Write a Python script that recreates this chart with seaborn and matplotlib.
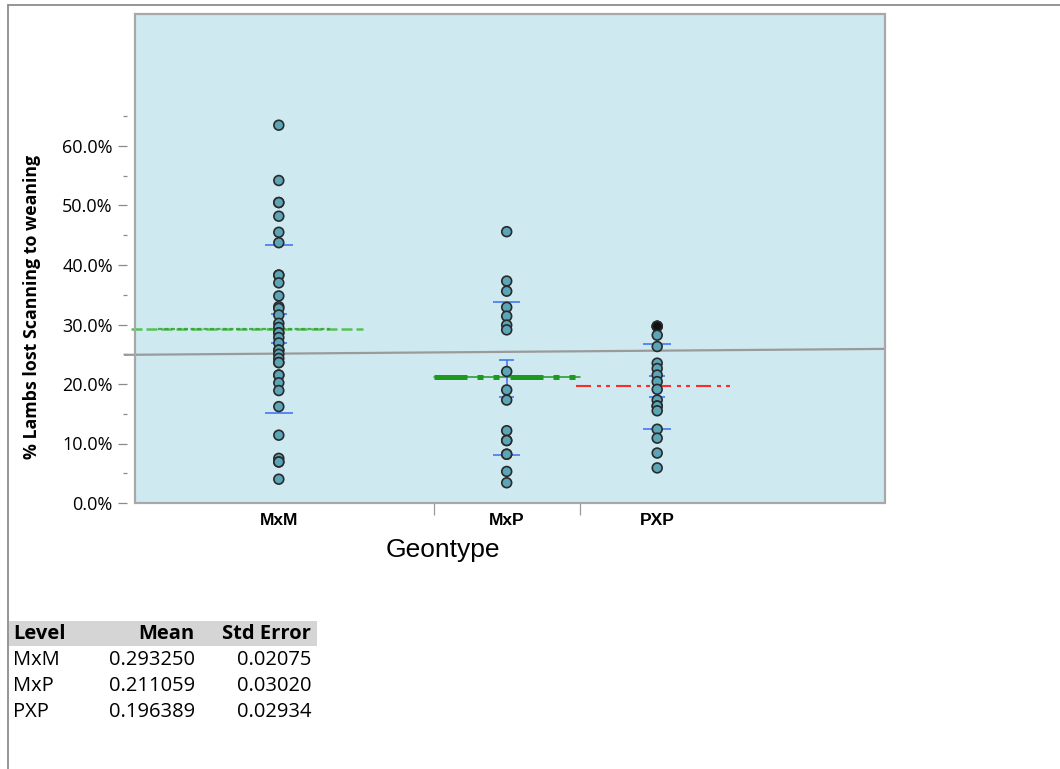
import numpy as np
import pandas as pd
import matplotlib
matplotlib.use("Agg")
import matplotlib.pyplot as plt
import seaborn as sns
from matplotlib.ticker import FixedLocator, FuncFormatter, NullFormatter
from matplotlib.lines import Line2D
from matplotlib.patches import Rectangle

# ---------------- data ----------------
levels = ["MxM", "MxP", "PXP"]
mxm_values = [0.635, 0.542, 0.505, 0.505, 0.482, 0.455, 0.4375, 0.383, 0.383,
              0.370, 0.348, 0.330, 0.327, 0.316, 0.302, 0.295, 0.286, 0.286,
              0.278, 0.269, 0.257, 0.257, 0.250, 0.243, 0.236, 0.236, 0.215,
              0.215, 0.202, 0.189, 0.162, 0.114, 0.075, 0.069, 0.069, 0.040]
mxp_values = [0.456, 0.373, 0.356, 0.329, 0.314, 0.299, 0.291, 0.221, 0.190,
              0.173, 0.1215, 0.105, 0.105, 0.082, 0.082, 0.053, 0.034]
pxp_values = [0.297, 0.297, 0.297, 0.282, 0.263, 0.235, 0.226, 0.215, 0.204,
              0.191, 0.173, 0.163, 0.163, 0.155, 0.124, 0.109, 0.084, 0.059]
table_means = [0.293250, 0.211059, 0.196389]
table_se = [0.02075, 0.03020, 0.02934]
sd_low = [0.151, 0.081, 0.124]
sd_high = [0.434, 0.337, 0.268]
err_low = [0.269, 0.178, 0.178]
err_high = [0.317, 0.240, 0.2135]
grand_mean_ends = [0.249, 0.259]
y_major = [0.0, 0.1, 0.2, 0.3, 0.4, 0.5, 0.6]
y_minor = [0.05, 0.15, 0.25, 0.35, 0.45, 0.55, 0.65]
x_label = "Geontype"
y_label = "% Lambs lost Scanning to weaning"
table_headers = ["Level", "Mean", "Std Error"]

# ---------------- style ----------------
sns.set_theme(style="white")
plt.rcParams["font.family"] = ["Open Sans", "DejaVu Sans"]
plt.rcParams["text.color"] = "black"
plt.rcParams["axes.labelcolor"] = "black"
plt.rcParams["lines.scale_dashes"] = False

W, H = 1060, 769
fig = plt.figure(figsize=(W / 100, H / 100), dpi=100)
fig.patch.set_facecolor("white")
ax_left, ax_right, ax_top, ax_bottom = 135, 885, 14, 503
ax = fig.add_axes([ax_left / W, 1 - ax_bottom / H,
                   (ax_right - ax_left) / W, (ax_bottom - ax_top) / H])
ax.set_facecolor("#cfe9f1")

groups = [mxm_values, mxp_values, pxp_values]
ns = np.array([len(g) for g in groups])
starts = np.concatenate([[0], np.cumsum(ns)[:-1]])
centers = starts + ns / 2.0
total_n = ns.sum()

px_per_unit = 8.6
x_min = (ax_left - 124) / px_per_unit
x_max = x_min + (ax_right - ax_left) / px_per_unit

rows = []
for lev, vals, c in zip(levels, groups, centers):
    for v in vals:
        rows.append({"Geontype": lev, "pos": c, "value": v,
                     "stack": (lev == "PXP" and v >= 0.295)})
df = pd.DataFrame(rows)

# grand mean line
ax.plot([0, x_max], grand_mean_ends, color="#9a9a9a", lw=1.6,
        clip_on=False, zorder=2, solid_capstyle="butt")

# blue std-dev lines and error bars
blue = "#3a6ef2"
for i in range(3):
    c = centers[i]
    ax.hlines([sd_low[i], sd_high[i]], c - 1.6, c + 1.6, color=blue, lw=1.1, zorder=2)
    ax.vlines(c, err_low[i], err_high[i], color=blue, lw=1.1, zorder=2)
    ax.hlines([err_low[i], err_high[i]], c - 0.9, c + 0.9, color=blue, lw=1.1, zorder=2)

# mean lines
pt = 0.72
# MxM: green dashed
x0, x1 = starts[0] + 0.8, starts[0] + 27.8
ax.plot([x0, x1], [table_means[0]] * 2, color="#55c255", lw=1.8,
        dashes=(11 * pt, 4 * pt), zorder=2, clip_on=False)
ax.plot([starts[0] + 3.9, starts[0] + 24.0], [table_means[0]] * 2, color="#2e9e2e",
        lw=1.6, dashes=(4 * pt, 2.5 * pt), zorder=2, alpha=0.8)
# MxP: thick green dash + squares
x0, x1 = starts[1], starts[1] + ns[1]
ax.plot([x0, x1], [table_means[1]] * 2, color="#1d9a1d", lw=1.1, zorder=2)
ax.plot([x0, x1], [table_means[1]] * 2, color="#1d9a1d", lw=3.6,
        dashes=(33 * pt, 10 * pt, 6 * pt, 10 * pt, 6 * pt, 11 * pt),
        solid_capstyle="butt", dash_capstyle="butt", zorder=2)
# PXP: red dash-dot-dot
x0, x1 = starts[2] - 0.4, starts[2] + ns[2] - 0.2
ax.plot([x0, x1], [table_means[2]] * 2, color="#ff2a2a", lw=1.5,
        dashes=(15 * pt, 6 * pt, 4 * pt, 5 * pt, 4 * pt, 6 * pt),
        dash_capstyle="butt", zorder=2)

# points
sns.scatterplot(data=df, x="pos", y="value", hue="stack",
                palette={False: "#5ba5b8", True: "#111111"},
                s=50, edgecolor="#2a2a2a", linewidth=1.2, legend=False,
                ax=ax, zorder=3)

# axes limits & ticks
ax.set_xlim(x_min, x_max)
ax.set_ylim(0, (ax_bottom - ax_top) / 595.0)

for s in ax.spines.values():
    s.set_visible(False)
ax.spines["left"].set_position(("outward", 6))
ax.add_patch(Rectangle((0, 0), 1, 1, transform=ax.transAxes, fill=False,
                       edgecolor="#a8a8a8", lw=1.6, zorder=5, clip_on=False))

ax.yaxis.set_major_locator(FixedLocator(y_major))
ax.yaxis.set_minor_locator(FixedLocator(y_minor))
ax.yaxis.set_major_formatter(FuncFormatter(lambda v, p: f"{v * 100:.1f}%"))
ax.yaxis.set_minor_formatter(NullFormatter())
ax.tick_params(axis="y", which="major", direction="out", length=6.5, width=0.9,
               color="#8a8a8a", pad=3.5, labelsize=13, labelcolor="black", left=True)
ax.tick_params(axis="y", which="minor", direction="out", length=3.2, width=0.9,
               color="#8a8a8a", left=True)

boundaries = list(starts[1:])
ax.xaxis.set_major_locator(FixedLocator(boundaries))
ax.xaxis.set_major_formatter(NullFormatter())
ax.xaxis.set_minor_locator(FixedLocator(list(centers)))
ax.xaxis.set_minor_formatter(FuncFormatter(lambda v, p: levels[p] if p < len(levels) else ""))
ax.tick_params(axis="x", which="major", direction="out", length=8.6, width=0.9,
               color="#9a9a9a", bottom=True)
ax.tick_params(axis="x", which="minor", length=0, pad=7, bottom=True)
for lab in ax.xaxis.get_minorticklabels():
    lab.set_fontfamily(["Liberation Sans", "DejaVu Sans"])
    lab.set_fontweight("bold")
    lab.set_fontsize(12.5)
    lab.set_color("black")

ax.set_xlabel(x_label, fontsize=19, family=["Liberation Sans", "DejaVu Sans"],
              color="black", va="center")
ax.xaxis.set_label_coords((443 - ax_left) / (ax_right - ax_left),
                          (ax_bottom - 550) / (ax_bottom - ax_top))
ax.set_ylabel(y_label, fontsize=12.8, fontweight="bold", color="black", va="center")
ax.yaxis.set_label_coords((32 - ax_left) / (ax_right - ax_left),
                          (ax_bottom - 307) / (ax_bottom - ax_top))

# figure borders
fig.add_artist(Line2D([8 / W, 8 / W], [0, 1 - 5 / H], color="#8c8c8c", lw=1.3))
fig.add_artist(Line2D([8 / W, 1], [1 - 5 / H, 1 - 5 / H], color="#8c8c8c", lw=1.3))

# summary table
fs = 14.5
fig.add_artist(Rectangle((9 / W, 1 - 646 / H), 308 / W, 25 / H,
                         facecolor="#d5d5d5", edgecolor="none"))
hy = 1 - 634 / H
fig.text(13 / W, hy, table_headers[0], ha="left", va="center", fontsize=fs, fontweight="bold")
fig.text(195 / W, hy, table_headers[1], ha="right", va="center", fontsize=fs, fontweight="bold")
fig.text(311 / W, hy, table_headers[2], ha="right", va="center", fontsize=fs, fontweight="bold")
for i, (lev, m, se) in enumerate(zip(levels, table_means, table_se)):
    ry = 1 - (660 + 26 * i) / H
    fig.text(13 / W, ry, lev, ha="left", va="center", fontsize=fs)
    fig.text(195 / W, ry, f"{m:.6f}", ha="right", va="center", fontsize=fs)
    fig.text(311 / W, ry, f"{se:.5f}", ha="right", va="center", fontsize=fs)

fig.savefig("out.png", dpi=100)
